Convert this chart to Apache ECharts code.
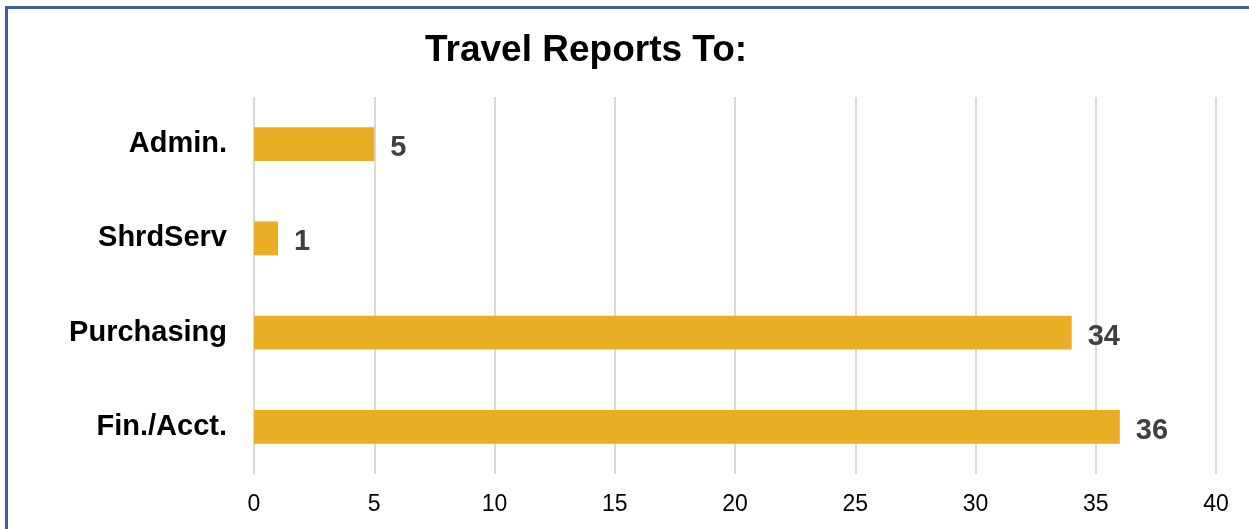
<!DOCTYPE html>
<html>
<head>
<meta charset="utf-8">
<script src="https://cdn.jsdelivr.net/npm/echarts@6/dist/echarts.min.js"></script>
<style>
  html, body { margin: 0; padding: 0; background: #ffffff; overflow: hidden; }
  #chart { position: absolute; left: 0; top: 0; width: 1249px; height: 529px; }
  #frame {
    position: absolute; left: 5px; top: 6px; width: 1400px; height: 700px;
    border-top: 3px solid #3B5EA6; border-left: 3px solid #3B5EA6;
    pointer-events: none;
  }
</style>
</head>
<body>
<div id="chart"></div>
<div id="frame"></div>
<script>
  // Reporting lines for travel, top to bottom
  const categories = ['Admin.', 'ShrdServ', 'Purchasing', 'Fin./Acct.'];
  const counts = [5, 1, 34, 36];
  const xTicks = [0, 5, 10, 15, 20, 25, 30, 35, 40];

  const FONT = '"Liberation Sans", Arial, Helvetica, sans-serif';

  const chart = echarts.init(document.getElementById('chart'), null, { renderer: 'canvas' });
  chart.setOption({
    animation: false,
    backgroundColor: '#ffffff',
    title: {
      text: 'Travel Reports To:',
      left: 425,
      top: 32,
      padding: 0,
      textStyle: { fontFamily: FONT, fontSize: 37, fontWeight: 'bold', color: '#000000' }
    },
    grid: { left: 254, right: 33, top: 97, bottom: 55, containLabel: false },
    xAxis: {
      type: 'value',
      min: xTicks[0],
      max: xTicks[xTicks.length - 1],
      interval: xTicks[1] - xTicks[0],
      axisLine: { show: false },
      axisTick: { show: false },
      axisLabel: { fontFamily: FONT, fontSize: 23, color: '#000000', margin: 19 },
      splitLine: { show: true, lineStyle: { color: '#D9D9D9', width: 2 } }
    },
    yAxis: {
      type: 'category',
      data: categories,
      inverse: true,
      axisLine: { show: false },
      axisTick: { show: false },
      axisLabel: { fontFamily: FONT, fontSize: 29, fontWeight: 'bold', color: '#000000', margin: 27, padding: [8, 0, 0, 0] }
    },
    series: [{
      type: 'bar',
      data: counts,
      barWidth: '36%',
      itemStyle: { color: '#EAAE24' },
      label: {
        show: true,
        position: 'right',
        distance: 16,
        offset: [0, 4],
        fontFamily: FONT,
        fontSize: 29,
        fontWeight: 'bold',
        color: '#404040'
      }
    }]
  });
</script>
</body>
</html>
